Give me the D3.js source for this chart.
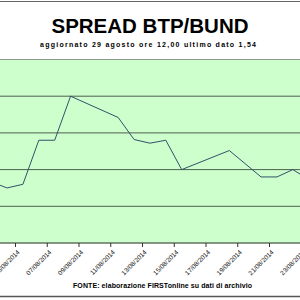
<!DOCTYPE html>
<html>
<head>
<meta charset="utf-8">
<script src="https://cdn.jsdelivr.net/npm/d3@7"></script>
<style>
  body { margin: 0; background: #fff; }
  svg { display: block; font-family: "Liberation Sans", Arial, sans-serif; }
</style>
</head>
<body>
<script>
// dati dello spread (rilevazione alle 12:00)
const dates = ["2014-08-01", "2014-08-04", "2014-08-05", "2014-08-06", "2014-08-07", "2014-08-08",
  "2014-08-11", "2014-08-12", "2014-08-13", "2014-08-14", "2014-08-15",
  "2014-08-18", "2014-08-20", "2014-08-21", "2014-08-22", "2014-08-25"];
const spread = [1.60, 1.575, 1.58, 1.64, 1.64, 1.70,
  1.671, 1.641, 1.636, 1.64, 1.60,
  1.626, 1.59, 1.59, 1.60, 1.56];
const gridValues = [1.55, 1.60, 1.65, 1.70];

const width = 300, height = 300;
const plotTop = 59.5, plotBottom = 243;

const parse = d3.timeParse("%Y-%m-%d");
const data = dates.map((d, i) => ({ date: d3.timeHour.offset(parse(d), 12), value: spread[i] }));

const svg = d3.select("body").append("svg")
  .attr("width", width)
  .attr("height", height);

// scale
const x = d3.scaleTime()
  .domain([parse("2014-08-05"), parse("2014-08-21")])
  .range([15, 269]);
const y = d3.scaleLinear()
  .domain([1.50, 1.75])
  .range([plotBottom, plotTop]);

// bordi del riquadro
svg.append("line").attr("x1", 0).attr("x2", width).attr("y1", 1.5).attr("y2", 1.5)
  .attr("stroke", "#666").attr("stroke-width", 1.2);
svg.append("line").attr("x1", 0).attr("x2", width).attr("y1", 296.5).attr("y2", 296.5)
  .attr("stroke", "#555").attr("stroke-width", 1.5);

// titolo
svg.append("text")
  .attr("x", 150).attr("y", 33.3)
  .attr("text-anchor", "middle")
  .style("font-size", "20.5px").style("font-weight", "bold")
  .text("SPREAD BTP/BUND");

svg.append("text")
  .attr("x", 40).attr("y", 46.5)
  .attr("textLength", 216).attr("lengthAdjust", "spacing")
  .style("font-size", "7px").style("font-weight", "bold")
  .text("aggiornato 29 agosto ore 12,00 ultimo dato 1,54");

// area del grafico
svg.append("rect")
  .attr("x", -2).attr("y", plotTop)
  .attr("width", width + 4).attr("height", plotBottom - plotTop)
  .attr("fill", "#ccffcc")
  .attr("stroke", "#8a9a8a").attr("stroke-width", 1);

// griglia
svg.append("g").selectAll("line")
  .data(gridValues)
  .join("line")
  .attr("x1", 0).attr("x2", width)
  .attr("y1", d => y(d)).attr("y2", d => y(d))
  .attr("stroke", "#4f5f4f").attr("stroke-width", 1);

// linea dello spread
svg.append("path")
  .datum(data)
  .attr("fill", "none")
  .attr("stroke", "#34506a")
  .attr("stroke-width", 1)
  .attr("d", d3.line().x(d => x(d.date)).y(d => y(d.value)));

// asse x
svg.append("line").attr("x1", 0).attr("x2", width).attr("y1", plotBottom).attr("y2", plotBottom)
  .attr("stroke", "#4f5f4f").attr("stroke-width", 1.2);

const tickDates = d3.timeDay.every(2).range(parse("2014-08-03"), parse("2014-08-26"));
const xAxis = svg.append("g")
  .attr("transform", `translate(0,${plotBottom})`)
  .call(d3.axisBottom(x).tickValues(tickDates).tickSize(4).tickFormat(d3.timeFormat("%d/%m/%Y")));
xAxis.select(".domain").remove();
xAxis.selectAll(".tick line").attr("stroke", "#333");
xAxis.selectAll(".tick text")
  .attr("x", 0).attr("y", 0).attr("dy", "0.35em")
  .attr("text-anchor", "end")
  .attr("transform", "translate(3,8) rotate(-45)")
  .style("font-size", "6.5px")
  .style("font-family", "'Liberation Sans', Arial, sans-serif")
  .attr("fill", "#111");

// fonte
svg.append("text")
  .attr("x", 73).attr("y", 287.5)
  .attr("textLength", 179).attr("lengthAdjust", "spacing")
  .style("font-size", "7px").style("font-weight", "bold")
  .text("FONTE: elaborazione FIRSTonline su dati di archivio");
</script>
</body>
</html>
